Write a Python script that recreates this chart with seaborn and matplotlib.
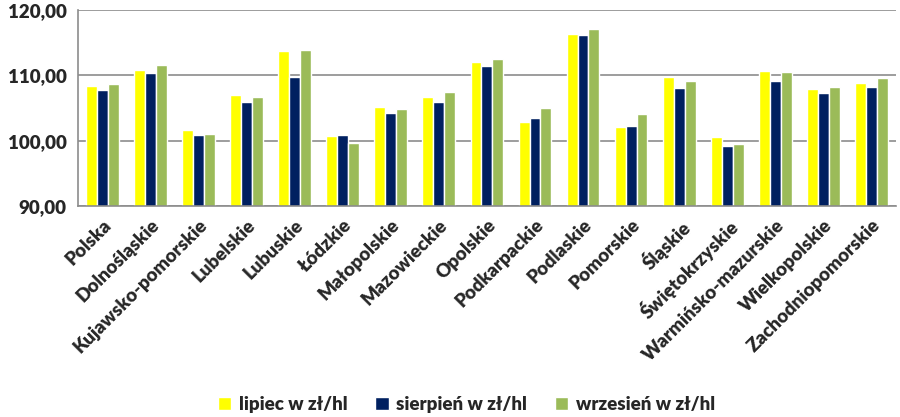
import numpy as np
import pandas as pd
import matplotlib.pyplot as plt
import seaborn as sns
from matplotlib.ticker import FuncFormatter

# Data
regions = ["Polska", "Dolnośląskie", "Kujawsko-pomorskie", "Lubelskie", "Lubuskie",
           "Łódzkie", "Małopolskie", "Mazowieckie", "Opolskie", "Podkarpackie",
           "Podlaskie", "Pomorskie", "Śląskie", "Świętokrzyskie",
           "Warmińsko-mazurskie", "Wielkopolskie", "Zachodniopomorskie"]
lipiec = [108.43, 110.87, 101.74, 106.96, 113.76, 100.82, 105.19, 106.66, 112.09,
          102.95, 116.35, 102.09, 109.80, 100.57, 110.72, 107.98, 108.89]
sierpien = [107.78, 110.41, 100.97, 105.95, 109.80, 100.97, 104.28, 105.90, 111.48,
            103.56, 116.19, 102.24, 108.03, 99.20, 109.14, 107.26, 108.18]
wrzesien = [108.74, 111.63, 101.13, 106.71, 113.91, 99.71, 104.89, 107.47, 112.54,
            105.04, 117.16, 104.17, 109.09, 99.60, 110.56, 108.18, 109.65]
series = ["lipiec w zł/hl", "sierpień w zł/hl", "wrzesień w zł/hl"]
colors = ["#FFFF00", "#002060", "#9BBB59"]

df = pd.DataFrame({"region": regions, series[0]: lipiec,
                   series[1]: sierpien, series[2]: wrzesien})
long = df.melt(id_vars="region", var_name="miesiac", value_name="cena")

sns.set_style("white")
plt.rcParams['font.family'] = ['Lato', 'DejaVu Sans']

fig, ax = plt.subplots(figsize=(9, 4.17), dpi=100)
fig.subplots_adjust(left=0.087, right=0.995, top=0.976, bottom=0.505)

sns.barplot(data=long, x="region", y="cena", hue="miesiac", palette=colors,
            width=0.68, ax=ax, saturation=1, legend=True)

ax.set_ylim(90, 120)
ax.set_yticks([90, 100, 110, 120])
ax.yaxis.set_major_formatter(FuncFormatter(lambda v, p: f"{v:.2f}".replace(".", ",")))
ax.yaxis.grid(True, color="#8c8c8c", linewidth=1.2)
ax.set_axisbelow(True)
ax.set_xlim(-0.5, len(regions) - 0.5)
ax.set_xlabel("")
ax.set_ylabel("")

for s in ["top", "right"]:
    ax.spines[s].set_visible(False)
for s in ["left", "bottom"]:
    ax.spines[s].set_color("#8c8c8c")
    ax.spines[s].set_linewidth(1.2)

ax.tick_params(axis="y", labelsize=13.5, length=5, color="#8c8c8c", width=1.2)
for lbl in ax.get_yticklabels():
    lbl.set_fontweight("heavy")

ax.set_xticks(range(len(regions)))
ax.set_xticklabels(regions, rotation=45, ha="right", rotation_mode="anchor",
                   fontsize=13.5, fontweight="heavy")
ax.tick_params(axis="x", which="major", length=0, pad=7)
ax.set_xticks(np.arange(-0.5, len(regions), 1), minor=True)
ax.tick_params(axis="x", which="minor", length=5, color="#8c8c8c", width=1.2)

ax.legend(loc="lower center", bbox_to_anchor=(0.475, -1.14), ncol=3, frameon=False,
          prop={"size": 13.5, "weight": "heavy"}, handlelength=0.7, handleheight=0.7,
          handletextpad=0.4, columnspacing=1.5)

fig.savefig("out.png", dpi=100)
